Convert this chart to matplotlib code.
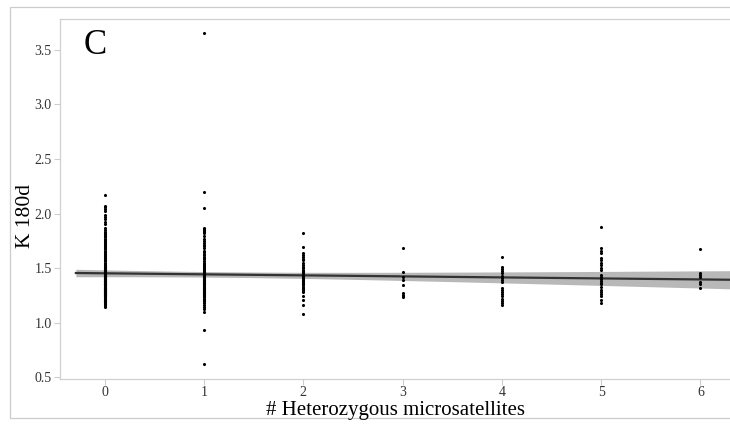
import numpy as np
import matplotlib
matplotlib.use("Agg")
import matplotlib.pyplot as plt
from matplotlib.patches import Rectangle

# K 180d values per number of heterozygous microsatellites
k0 = [2.17, 2.07, 2.06, 2.04, 2.02, 1.99, 1.97, 1.95, 1.92, 1.90, 1.87, 1.85, 1.83,
      1.82, 1.81, 1.80, 1.79, 1.78, 1.77, 1.76, 1.75, 1.74, 1.73, 1.72, 1.71, 1.70,
      1.69, 1.68, 1.67, 1.66, 1.65, 1.64, 1.63, 1.62, 1.61, 1.60, 1.59, 1.58, 1.57,
      1.56, 1.55, 1.54, 1.53, 1.52, 1.51, 1.50, 1.49, 1.48, 1.47, 1.46, 1.45, 1.44,
      1.43, 1.42, 1.41, 1.40, 1.39, 1.38, 1.37, 1.36, 1.35, 1.34, 1.33, 1.32, 1.31,
      1.30, 1.29, 1.28, 1.27, 1.26, 1.25, 1.24, 1.23, 1.22, 1.21, 1.20, 1.19, 1.18,
      1.17, 1.16, 1.15, 1.14,
      1.52, 1.50, 1.48, 1.46, 1.44, 1.42, 1.40, 1.38, 1.36, 1.34, 1.32, 1.30, 1.28,
      1.26, 1.24, 1.22, 1.20, 1.18, 1.51, 1.47, 1.43, 1.39, 1.35, 1.31, 1.27, 1.23,
      1.19, 1.49, 1.45, 1.41, 1.37, 1.33, 1.29, 1.25, 1.21, 1.17, 1.46, 1.42, 1.38,
      1.34, 1.30, 1.26, 1.22, 1.44, 1.40, 1.36, 1.32, 1.28, 1.24, 1.20, 1.43, 1.39,
      1.35, 1.31, 1.27, 1.23, 1.48, 1.41, 1.37, 1.33, 1.29, 1.25, 1.45, 1.38, 1.34,
      1.30, 1.26, 1.42, 1.36, 1.32, 1.28, 1.40, 1.35, 1.31, 1.27, 1.37, 1.33, 1.29]
k1 = [3.66, 2.20, 2.05, 1.87, 1.86, 1.85, 1.84, 1.83, 1.82, 1.79, 1.77, 1.75, 1.73,
      1.71, 1.70, 1.68, 1.66, 1.65, 1.63, 1.62, 1.60, 1.59, 1.58, 1.56, 1.55, 1.54,
      1.53, 1.52, 1.51, 1.50, 1.49, 1.48, 1.47, 1.46, 1.45, 1.44, 1.43, 1.42, 1.41,
      1.40, 1.39, 1.38, 1.37, 1.36, 1.35, 1.34, 1.33, 1.32, 1.31, 1.30, 1.29, 1.28,
      1.27, 1.26, 1.25, 1.24, 1.22, 1.20, 1.18, 1.16, 1.14, 1.12, 1.10, 0.93, 0.62,
      1.45, 1.42, 1.39, 1.36, 1.33, 1.30, 1.27, 1.24, 1.21, 1.44, 1.41, 1.38, 1.35,
      1.32, 1.29, 1.26, 1.23, 1.20, 1.43, 1.40, 1.37, 1.34, 1.31, 1.28, 1.25, 1.22,
      1.39, 1.35, 1.31, 1.27, 1.36, 1.32, 1.28]
k2 = [1.82, 1.69, 1.64, 1.62, 1.60, 1.58, 1.57, 1.55, 1.53, 1.51, 1.50, 1.48, 1.47,
      1.46, 1.45, 1.44, 1.43, 1.42, 1.41, 1.40, 1.39, 1.38, 1.37, 1.36, 1.35, 1.34,
      1.33, 1.32, 1.31, 1.30, 1.29, 1.28, 1.24, 1.21, 1.16, 1.08]
k3 = [1.68, 1.46, 1.42, 1.39, 1.34, 1.27, 1.25, 1.24, 1.23]
k4 = [1.60, 1.51, 1.49, 1.47, 1.45, 1.43, 1.41, 1.39, 1.37, 1.32, 1.30, 1.28, 1.26,
      1.24, 1.22, 1.20, 1.18, 1.16]
k5 = [1.88, 1.68, 1.66, 1.64, 1.59, 1.57, 1.55, 1.53, 1.50, 1.48, 1.44, 1.42, 1.40,
      1.38, 1.36, 1.35, 1.33, 1.30, 1.28, 1.26, 1.24, 1.21, 1.18]
k6 = [1.67, 1.45, 1.44, 1.42, 1.37, 1.35, 1.32]

groups = [k0, k1, k2, k3, k4, k5, k6]
x = np.concatenate([[i] * len(g) for i, g in enumerate(groups)]).astype(float)
y = np.concatenate(groups)

# linear fit with 95% confidence band
slope, intercept = np.polyfit(x, y, 1)
n = len(x)
resid = y - (intercept + slope * x)
s = np.sqrt(np.sum(resid ** 2) / (n - 2))
sxx = np.sum((x - x.mean()) ** 2)
xs = np.linspace(-0.29, 6.4, 100)
fit = intercept + slope * xs
se = s * np.sqrt(1 / n + (xs - x.mean()) ** 2 / sxx)

plt.rcParams['font.family'] = ['Liberation Serif', 'DejaVu Serif']

fig = plt.figure(figsize=(7.3, 4.25), dpi=100)
ax = fig.add_axes([60 / 730, 46 / 425, 1.0, 360 / 425])

ax.fill_between(xs, fit - 1.96 * se, fit + 1.96 * se, color="#b8b8b8", lw=0, zorder=1)
ax.plot(xs, fit, color="#333333", lw=1.6, zorder=2)
ax.scatter(x, y, s=5, color="black", lw=0, zorder=3)

ax.set_xlim(-0.45, -0.45 + 730 / 99.3)
ax.set_ylim(0.482, 3.784)
ax.set_xticks(range(7))
ax.set_yticks([0.5, 1.0, 1.5, 2.0, 2.5, 3.0, 3.5])
ax.set_yticklabels(["0.5", "1.0", "1.5", "2.0", "2.5", "3.0", "3.5"])
ax.tick_params(labelcolor="#333333", labelsize=10, length=4, width=0.8,
               color="#cccccc", pad=2)
ax.tick_params(axis="x", pad=1)
for side in ["left", "top", "bottom"]:
    ax.spines[side].set_color("#d0d0d0")
    ax.spines[side].set_linewidth(0.9)
ax.spines["right"].set_visible(False)

fig.text(395 / 730, 1 - 410 / 425, "# Heterozygous microsatellites", fontsize=15,
         ha="center", va="center")
fig.text(25 / 730, 1 - 216 / 425, "K 180d", rotation=90, fontsize=15.5,
         ha="center", va="center")
fig.text(95 / 730, 1 - 45 / 425, "C", fontsize=25, ha="center", va="center")

fig.patches.append(Rectangle((10 / 730, 7 / 425), 1.0, 411 / 425,
                             transform=fig.transFigure, fill=False,
                             edgecolor="#cccccc", lw=0.9))

fig.savefig("out.png", dpi=100)
